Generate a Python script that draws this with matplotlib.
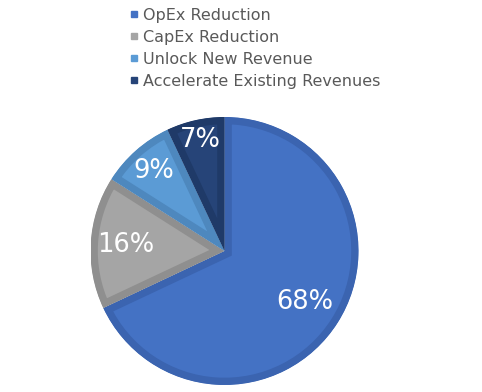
import matplotlib
matplotlib.use("Agg")
import matplotlib.pyplot as plt
import numpy as np
from matplotlib.lines import Line2D

categories = ['OpEx Reduction', 'CapEx Reduction', 'Unlock New Revenue', 'Accelerate Existing Revenues']
shares = [68, 16, 9, 7]
pct_labels = ['68%', '16%', '9%', '7%']

fill_colors = ['#4472C4', '#A5A5A5', '#5B9BD5', '#264478']
edge_colors = ['#3B64B0', '#8F8F8F', '#4E88BE', '#1F3A68']
label_dist = [0.707, 0.736, 0.795, 0.845]

plt.rcParams['font.family'] = ['DejaVu Sans']

fig = plt.figure(figsize=(4.82, 3.92), dpi=100)
ax = fig.add_axes([0.1878, 0.0179, 0.556, 0.6837])

wedges, _ = ax.pie(shares, colors=fill_colors, startangle=90, counterclock=False,
                   wedgeprops=dict(linewidth=10.5, joinstyle='miter'))
for w, ec in zip(wedges, edge_colors):
    w.set_edgecolor(ec)
    w.set_clip_path(w)  # keep only the inner half of the border
    w.set_clip_on(True)

for w, txt, d in zip(wedges, pct_labels, label_dist):
    mid = np.deg2rad((w.theta1 + w.theta2) / 2)
    ax.text(d * np.cos(mid), d * np.sin(mid), txt, color='white', fontsize=18.5,
            ha='center', va='center')
ax.set_xlim(-1, 1)
ax.set_ylim(-1, 1)
ax.set_aspect('equal')

handles = [Line2D([], [], marker='s', linestyle='None', markersize=4.7,
                  markerfacecolor=c, markeredgecolor=c) for c in fill_colors]
fig.legend(handles, categories, loc='upper left', bbox_to_anchor=(0.263, 0.988),
           frameon=False, fontsize=11.5, labelcolor='#595959', handlelength=0.45,
           handletextpad=0.35, labelspacing=0.43, borderpad=0.2, borderaxespad=0)

fig.savefig('out.png', dpi=100)
